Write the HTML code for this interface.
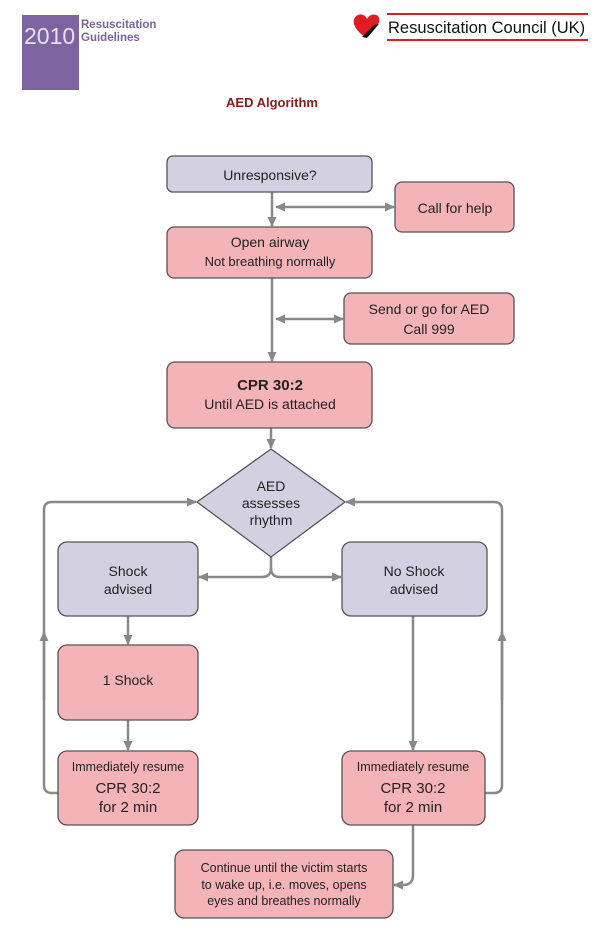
<!DOCTYPE html>
<html><head><meta charset="utf-8"><style>
html,body{margin:0;padding:0;background:#fff;}
svg{display:block;font-family:"Liberation Sans",Arial,sans-serif;}
</style></head><body>
<svg width="600" height="941" viewBox="0 0 600 941" xmlns="http://www.w3.org/2000/svg">
<defs>
<marker id="a" markerWidth="10" markerHeight="10" refX="9" refY="5" orient="auto" markerUnits="userSpaceOnUse">
<path d="M0,0.5 L10,5 L0,9.5 z" fill="#888"/></marker>
<marker id="s" markerWidth="10" markerHeight="10" refX="1" refY="5" orient="auto" markerUnits="userSpaceOnUse">
<path d="M10,0.5 L0,5 L10,9.5 z" fill="#888"/></marker>
</defs>
<!-- header -->
<rect x="22" y="15" width="57" height="75" fill="#7b64a0"/>
<text x="24" y="44" font-size="23" fill="#e6e0f0">2010</text>
<text x="81" y="28" font-size="11.5" font-weight="bold" fill="#7b64a0">Resuscitation</text>
<text x="81" y="41" font-size="11.5" font-weight="bold" fill="#7b64a0">Guidelines</text>
<path d="M365,37 C352,28 351,18 358,15 C362,13 366,16 367,19 C369,15 374,13 378,16 C382,21 377,29 365,37z" fill="#e01b22"/>
<path d="M362,37 L374,25 L379,24 L367,38z" fill="#111"/>
<line x1="387" y1="14" x2="588" y2="14" stroke="#e01b22" stroke-width="2"/>
<line x1="387" y1="40" x2="588" y2="40" stroke="#e01b22" stroke-width="2"/>
<text x="388" y="33" font-size="16.5" fill="#111">Resuscitation Council (UK)</text>
<text x="272" y="107" font-size="13" font-weight="bold" fill="#8b1a1a" text-anchor="middle">AED Algorithm</text>

<g stroke="#888" stroke-width="2.5" fill="none">
<line x1="272" y1="192" x2="272" y2="226" marker-end="url(#a)"/>
<line x1="276" y1="207" x2="394" y2="207" marker-start="url(#s)" marker-end="url(#a)"/>
<line x1="272" y1="278" x2="272" y2="361" marker-end="url(#a)"/>
<line x1="276" y1="319" x2="343" y2="319" marker-start="url(#s)" marker-end="url(#a)"/>
<line x1="271" y1="428" x2="271" y2="448" marker-end="url(#a)"/>
<path d="M271,557 L271,568 Q271,577 262,577 L199,577" marker-end="url(#a)"/>
<path d="M271,568 Q271,577 280,577 L341,577" marker-end="url(#a)"/>
<line x1="128" y1="616" x2="128" y2="644" marker-end="url(#a)"/>
<line x1="128" y1="720" x2="128" y2="750" marker-end="url(#a)"/>
<line x1="413" y1="616" x2="413" y2="750" marker-end="url(#a)"/>
<path d="M58,793 L52,793 Q44,793 44,785 L44,510 Q44,502 52,502 L196,502" marker-end="url(#a)"/>
<line x1="44" y1="700" x2="44" y2="632" marker-end="url(#a)"/>
<path d="M485,793 L494,793 Q502,793 502,785 L502,510 Q502,502 494,502 L346,502" marker-end="url(#a)"/>
<line x1="502" y1="700" x2="502" y2="632" marker-end="url(#a)"/>
<path d="M413,825 L413,875 Q413,885 403,885 L394,885" marker-end="url(#a)"/>
</g>

<g stroke="#555" stroke-width="1.3">
<rect x="167" y="156" width="205" height="36" rx="6" fill="#d3d0e2"/>
<rect x="395" y="182" width="119" height="50" rx="7" fill="#f4b4b7"/>
<rect x="167" y="227" width="205" height="51" rx="7" fill="#f4b4b7"/>
<rect x="344" y="293" width="170" height="51" rx="7" fill="#f4b4b7"/>
<rect x="167" y="362" width="205" height="66" rx="8" fill="#f4b4b7"/>
<path d="M271,449 L345,502 L271,557 L197,502 z" fill="#d3d0e2"/>
<rect x="58" y="542" width="140" height="74" rx="9" fill="#d3d0e2"/>
<rect x="342" y="542" width="145" height="74" rx="9" fill="#d3d0e2"/>
<rect x="58" y="645" width="140" height="75" rx="9" fill="#f4b4b7"/>
<rect x="58" y="751" width="140" height="74" rx="9" fill="#f4b4b7"/>
<rect x="342" y="751" width="143" height="74" rx="9" fill="#f4b4b7"/>
<rect x="175" y="850" width="218" height="68" rx="9" fill="#f4b4b7"/>
</g>

<g fill="#222" font-size="14" text-anchor="middle">
<text x="270" y="180">Unresponsive?</text>
<text x="455" y="213">Call for help</text>
<text x="270" y="247">Open airway</text>
<text x="270" y="266" font-size="13">Not breathing normally</text>
<text x="429" y="314">Send or go for AED</text>
<text x="429" y="334">Call 999</text>
<text x="270" y="390" font-weight="bold" font-size="15">CPR 30:2</text>
<text x="270" y="409">Until AED is attached</text>
<text x="271" y="491">AED</text>
<text x="271" y="508">assesses</text>
<text x="271" y="525">rhythm</text>
<text x="128" y="576">Shock</text>
<text x="128" y="594">advised</text>
<text x="414" y="576">No Shock</text>
<text x="414" y="594">advised</text>
<text x="128" y="685">1 Shock</text>
<text x="128" y="771" font-size="12.5">Immediately resume</text>
<text x="128" y="793" font-size="15">CPR 30:2</text>
<text x="128" y="812" font-size="15">for 2 min</text>
<text x="413" y="771" font-size="12.5">Immediately resume</text>
<text x="413" y="793" font-size="15">CPR 30:2</text>
<text x="413" y="812" font-size="15">for 2 min</text>
<text x="284" y="872" font-size="12.5">Continue until the victim starts</text>
<text x="284" y="889" font-size="12.5">to wake up, i.e. moves, opens</text>
<text x="284" y="905" font-size="12.5">eyes and breathes normally</text>
</g>
</svg>
</body></html>
